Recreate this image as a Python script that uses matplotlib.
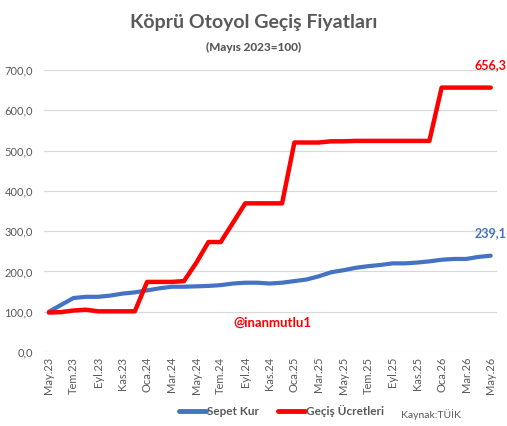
import matplotlib
matplotlib.use("Agg")
import matplotlib.pyplot as plt
from matplotlib.ticker import FuncFormatter, MultipleLocator

plt.rcParams['font.family'] = ['Lato', 'DejaVu Sans']

tick_labels = ["May.23", "Tem.23", "Eyl.23", "Kas.23", "Oca.24", "Mar.24", "May.24",
               "Tem.24", "Eyl.24", "Kas.24", "Oca.25", "Mar.25", "May.25", "Tem.25",
               "Eyl.25", "Kas.25", "Oca.26", "Mar.26", "May.26"]

sepet_kur = [100, 117, 134, 137, 137, 140, 145, 148, 153, 158, 162, 162, 163, 164,
             166, 170, 172, 172, 170, 172, 176, 180, 188, 198, 203, 209, 213, 216,
             220, 220, 222, 225, 229, 231, 231, 236, 239.1]
gecis = [98, 99, 103, 105, 101, 101, 101, 101, 174, 174, 174, 176, 221, 273,
         273, 321, 369, 369, 369, 369, 520, 520, 520, 523, 523, 524, 524, 524,
         524, 524, 524, 524, 656.3, 656.3, 656.3, 656.3, 656.3]

fig = plt.figure(figsize=(5.07, 4.26), dpi=100)
ax = fig.add_axes([0.0868, 0.1737, 0.8932, 0.662])
x = list(range(len(sepet_kur)))
ax.plot(x, sepet_kur, color="#4472C4", lw=3.0, solid_capstyle="round", solid_joinstyle="round", label="Sepet Kur")
ax.plot(x, gecis, color="#FF0000", lw=3.2, solid_capstyle="round", solid_joinstyle="round", label="Geçiş Ücretleri")

ax.set_ylim(0, 700)
ax.set_xlim(-0.4, 36.5)
ax.yaxis.set_major_locator(MultipleLocator(100))
ax.yaxis.set_major_formatter(FuncFormatter(lambda v, p: f"{v:.1f}".replace(".", ",")))
ax.grid(axis="y", color="#D9D9D9", lw=0.9)
ax.set_axisbelow(True)
for s in ax.spines.values():
    s.set_visible(False)
ax.set_xticks(x[::2])
ax.set_xticklabels(tick_labels, rotation=90, fontsize=8, color="#595959")
ax.tick_params(axis="both", length=0, colors="#595959", labelsize=8)
ax.tick_params(axis="y", pad=8)

ax.annotate("656,3", (36, gecis[-1]), xytext=(0, 12), textcoords="offset points",
            ha="center", va="bottom", color="#FF0000", fontsize=9, fontweight="bold")
ax.annotate("239,1", (36, sepet_kur[-1]), xytext=(0, 12), textcoords="offset points",
            ha="center", va="bottom", color="#4472C4", fontsize=9, fontweight="bold")

fig.text(0.538, 0.242, "@inanmutlu1", color="#FF0000", fontsize=9.5, fontweight="bold", ha="center", va="center")
fig.text(0.5, 0.948, "Köprü Otoyol Geçiş Fiyatları", color="#595959", fontsize=14, fontweight="bold", ha="center", va="center")
fig.text(0.5, 0.889, "(Mayıs 2023=100)", color="#595959", fontsize=8.5, fontweight="black", ha="center", va="center")

leg = fig.legend(loc="center", bbox_to_anchor=(0.555, 0.035), ncol=2, frameon=False,
                 fontsize=8.5, handlelength=2.3, handletextpad=0.1, columnspacing=1.6)
for line in leg.get_lines():
    line.set_linewidth(3.5)
for t in leg.get_texts():
    t.set_color("#595959")
    t.set_fontweight("bold")
fig.text(0.79, 0.028, "Kaynak:TÜİK", color="#595959", fontsize=7.5, ha="left", va="center")

fig.savefig("out.png", dpi=100)
